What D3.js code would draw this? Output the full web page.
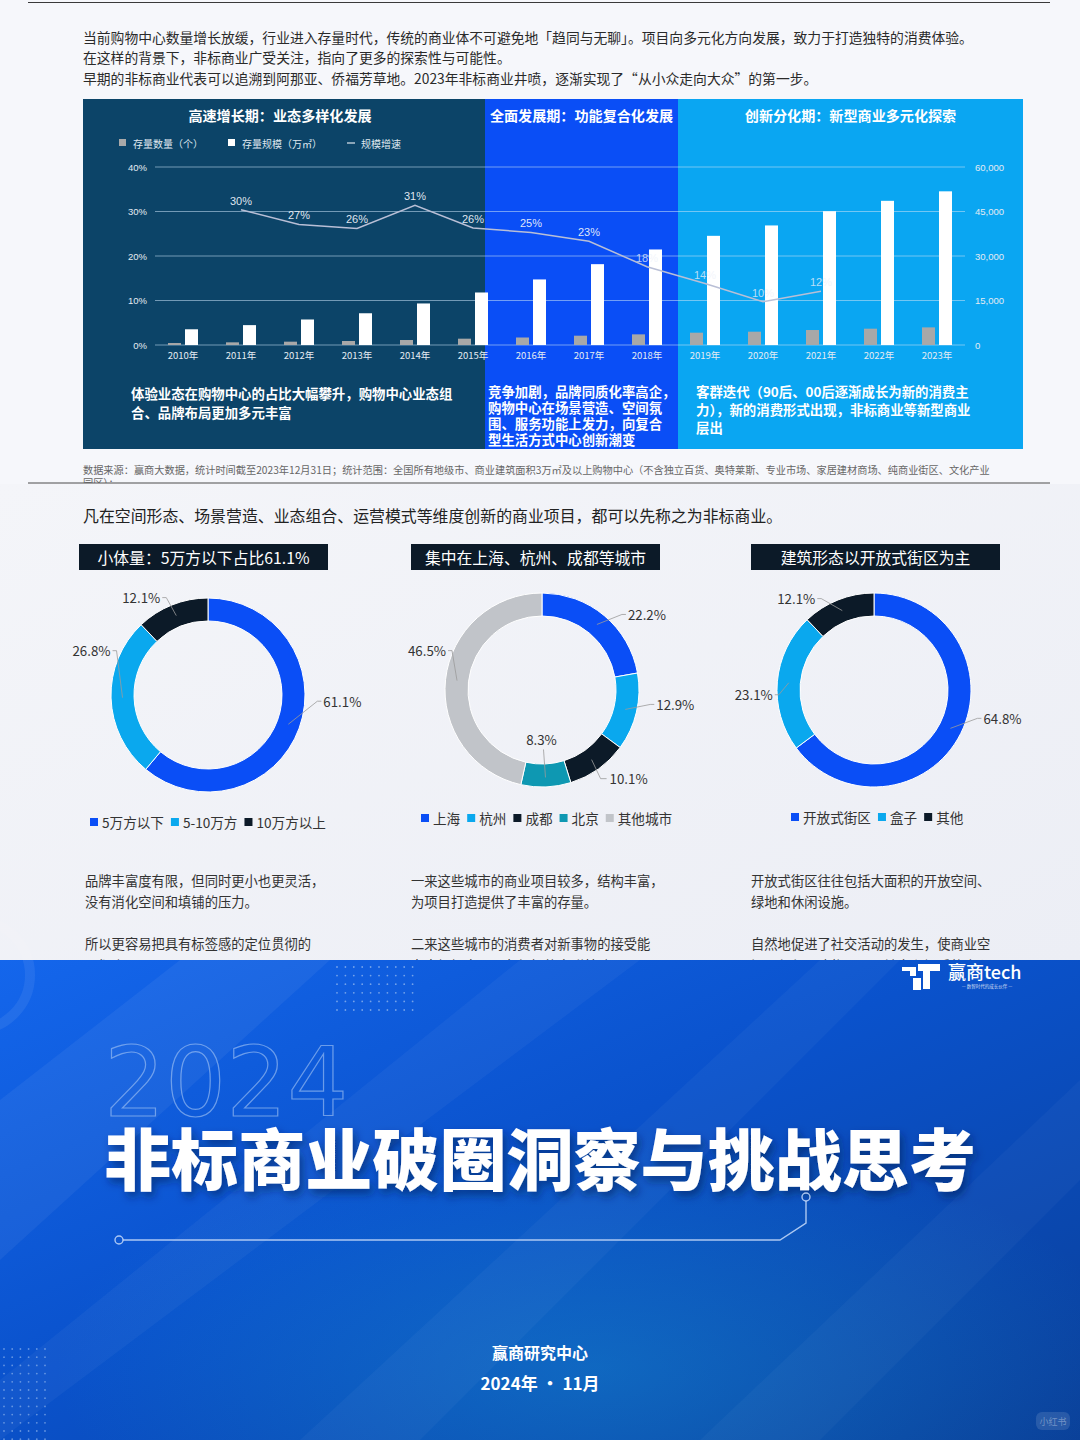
<!DOCTYPE html>
<html><head><meta charset="utf-8">
<script src="https://cdn.jsdelivr.net/npm/d3@7"></script>
<style>body{margin:0;background:#fff}svg{display:block}</style>
</head><body><svg id="c" width="1080" height="1440"></svg>
<script>
// ---------------- DATA ----------------
const years = ['2010年','2011年','2012年','2013年','2014年','2015年','2016年','2017年','2018年','2019年','2020年','2021年','2022年','2023年'];
const stockCount = [670, 900, 1120, 1350, 1680, 2130, 2530, 3140, 3590, 4150, 4490, 5050, 5500, 5940];
const stockArea = [5300, 6700, 8600, 10700, 14000, 17700, 22100, 27250, 32200, 36800, 40300, 45100, 48600, 51800];
const areaGrowth = [null, 30.4, 27.1, 26.2, 31.4, 26.3, 25.3, 23.3, 17.6, 13.8, 9.7, 12.1, null, null];
const leftTicks = [0, 10, 20, 30, 40];
const rightTicks = [0, 15000, 30000, 45000, 60000];
const barLegend = ['存量数量（个）', '存量规模（万㎡）', '规模增速'];
const phaseTitles = ['高速增长期：业态多样化发展', '全面发展期：功能复合化发展', '创新分化期：新型商业多元化探索'];
const phaseNotes = [
  ['体验业态在购物中心的占比大幅攀升，购物中心业态组', '合、品牌布局更加多元丰富'],
  ['竞争加剧，品牌同质化率高企，', '购物中心在场景营造、空间氛', '围、服务功能上发力，向复合', '型生活方式中心创新潮变'],
  ['客群迭代（90后、00后逐渐成长为新的消费主', '力），新的消费形式出现，非标商业等新型商业', '层出']
];
const introLines = [
  '当前购物中心数量增长放缓，行业进入存量时代，传统的商业体不可避免地「趋同与无聊」。项目向多元化方向发展，致力于打造独特的消费体验。',
  '在这样的背景下，非标商业广受关注，指向了更多的探索性与可能性。',
  '早期的非标商业代表可以追溯到阿那亚、侨福芳草地。2023年非标商业井喷，逐渐实现了“从小众走向大众”的第一步。'
];
const sourceLines = ['数据来源：赢商大数据，统计时间截至2023年12月31日；统计范围：全国所有地级市、商业建筑面积3万㎡及以上购物中心（不含独立百货、奥特莱斯、专业市场、家居建材商场、纯商业街区、文化产业', '园区）；'];

const sectionLead = '凡在空间形态、场景营造、业态组合、运营模式等维度创新的商业项目，都可以先称之为非标商业。';
const donutTitles = ['小体量：5万方以下占比61.1%', '集中在上海、杭州、成都等城市', '建筑形态以开放式街区为主'];
const sizeCats = ['5万方以下', '5-10万方', '10万方以上'];
const sizeVals = [61.1, 26.8, 12.1];
const cityCats = ['上海', '杭州', '成都', '北京', '其他城市'];
const cityVals = [22.2, 12.9, 10.1, 8.3, 46.5];
const formCats = ['开放式街区', '盒子', '其他'];
const formVals = [64.8, 23.1, 12.1];
const donutNotes = [
  ['品牌丰富度有限，但同时更小也更灵活，', '没有消化空间和填铺的压力。', '所以更容易把具有标签感的定位贯彻的', '更彻底。'],
  ['一来这些城市的商业项目较多，结构丰富，', '为项目打造提供了丰富的存量。', '二来这些城市的消费者对新事物的接受能', '力大幅提高，具备很好的客群基础。'],
  ['开放式街区往往包括大面积的开放空间、', '绿地和休闲设施。', '自然地促进了社交活动的发生，使商业空', '间不仅仅可购物，更是社交和娱乐的中心。']
];
const coverYear = '2024';
const coverTitle = '非标商业破圈洞察与挑战思考';
const coverOrg = '赢商研究中心';
const coverDate = '2024年 · 11月';

// ---------------- SETUP ----------------
const CN = '"Noto Sans CJK SC","Noto Sans",sans-serif';
const EN = '"Liberation Sans",Arial,sans-serif';
const svg = d3.select('#c');
const defs = svg.append('defs');
defs.append('clipPath').attr('id','clipTop').append('rect').attr('x',0).attr('y',0).attr('width',1080).attr('height',483);
defs.append('clipPath').attr('id','clipMid').append('rect').attr('x',0).attr('y',484).attr('width',1080).attr('height',476);

svg.append('rect').attr('x',0).attr('y',0).attr('width',1080).attr('height',484).attr('fill','#f6f7fb');
const g2 = defs.append('linearGradient').attr('id','bg2').attr('x1',0).attr('y1',0).attr('x2',1).attr('y2',1);
g2.append('stop').attr('offset',0).attr('stop-color','#f4f5f9');
g2.append('stop').attr('offset',1).attr('stop-color','#eceef5');
svg.append('rect').attr('x',0).attr('y',484).attr('width',1080).attr('height',476).attr('fill','url(#bg2)');
svg.append('line').attr('x1',28).attr('x2',1050).attr('y1',2.5).attr('y2',2.5).attr('stroke','#3a3a3a').attr('stroke-width',1);

svg.append('g').selectAll('text').data(introLines).join('text')
  .attr('x',83).attr('y',(d,i)=>[37,57,78][i]).attr('dominant-baseline','central')
  .attr('font-family',CN).attr('font-size',13.8).attr('fill','#2a2a2a').text(d=>d);

// ---------------- BAR/LINE CHART ----------------
const x = d3.scaleBand().domain(years).range([154, 966]).padding(0);
const cx = d => x(d) + x.bandwidth()/2;
const yL = d3.scaleLinear().domain([0, 40]).range([345, 167]);
const yR = d3.scaleLinear().domain([0, 60000]).range([345, 167]);
const panelTop = 99, panelBot = 449, panelL = 83, panelR = 1023;
const b1 = x(years[6]) - 17, b2 = x(years[9]) + 2;
const phases = [[panelL, b1, '#0c4468'], [b1, b2, '#0a4ef6'], [b2, panelR, '#0aa6f2']];
svg.append('g').selectAll('rect').data(phases).join('rect')
  .attr('x',d=>d[0]).attr('y',panelTop).attr('width',d=>d[1]-d[0]).attr('height',panelBot-panelTop).attr('fill',d=>d[2]);

svg.append('g').selectAll('text').data(phaseTitles).join('text')
  .attr('x',(d,i)=>(phases[i][0]+phases[i][1])/2 + [-4,0,0][i]).attr('y',115).attr('text-anchor','middle').attr('dominant-baseline','central')
  .attr('font-family',CN).attr('font-weight',700).attr('font-size',14.1).attr('fill','#fff').text(d=>d);

const lg = svg.append('g').attr('font-family',CN).attr('font-size',10).attr('fill','#dfe7ef');
lg.append('rect').attr('x',119).attr('y',139).attr('width',7).attr('height',7).attr('fill','#a9a9a9');
lg.append('text').attr('x',133).attr('y',143).attr('dominant-baseline','central').text(barLegend[0]);
lg.append('rect').attr('x',228).attr('y',139).attr('width',7).attr('height',7).attr('fill','#fff');
lg.append('text').attr('x',242).attr('y',143).attr('dominant-baseline','central').text(barLegend[1]);
lg.append('line').attr('x1',347).attr('x2',355).attr('y1',143).attr('y2',143).attr('stroke','#dfe7ef').attr('stroke-width',1.2);
lg.append('text').attr('x',361).attr('y',143).attr('dominant-baseline','central').text(barLegend[2]);

svg.append('g').selectAll('line').data(leftTicks).join('line')
  .attr('x1',155).attr('x2',965).attr('y1',d=>yL(d)).attr('y2',d=>yL(d))
  .attr('stroke','rgba(200,225,245,0.55)').attr('stroke-width',1);

const axL = svg.append('g').attr('transform','translate(147,0)')
  .call(d3.axisLeft(yL).tickValues(leftTicks).tickFormat(d=>d+'%').tickSize(0).tickPadding(0));
const axR = svg.append('g').attr('transform','translate(975,0)')
  .call(d3.axisRight(yR).tickValues(rightTicks).tickFormat(d3.format(',')).tickSize(0).tickPadding(0));
const axB = svg.append('g').attr('transform','translate(0,350)')
  .call(d3.axisBottom(x).tickSize(0).tickPadding(0));
[axL, axR, axB].forEach(a => {
  a.select('.domain').remove();
  a.selectAll('text').attr('font-family',EN).attr('font-size',9.5).attr('fill','#e4ebf2');
});
axB.selectAll('text').attr('font-family',CN).attr('dy','0.9em');

svg.append('g').selectAll('rect').data(years).join('rect')
  .attr('x',d=>cx(d)-15).attr('width',13)
  .attr('y',(d,i)=>yR(stockCount[i])).attr('height',(d,i)=>yR(0)-yR(stockCount[i]))
  .attr('fill','#a8a8a8');
svg.append('g').selectAll('rect').data(years).join('rect')
  .attr('x',d=>cx(d)+2).attr('width',13)
  .attr('y',(d,i)=>yR(stockArea[i])).attr('height',(d,i)=>yR(0)-yR(stockArea[i]))
  .attr('fill','#ffffff');

const lineData = years.map((d,i)=>({y:d, v:areaGrowth[i]}));
svg.append('path').datum(lineData)
  .attr('d', d3.line().defined(d=>d.v!=null).x(d=>cx(d.y)).y(d=>yL(d.v)))
  .attr('fill','none').attr('stroke','#b9bfd6').attr('stroke-width',1.5);
svg.append('g').selectAll('text').data(lineData.filter(d=>d.v!=null)).join('text')
  .attr('x',d=>cx(d.y)).attr('y',d=>yL(d.v)-9).attr('text-anchor','middle').attr('dominant-baseline','central')
  .attr('font-family',EN).attr('font-size',11).attr('fill','#eef2fa').attr('fill-opacity',(d,i)=>i>=7?0.75:0.95)
  .text(d=>Math.round(d.v)+'%');

const noteX = [131, 488, 696], noteY = [[393,412],[391,407,423,439],[391,409,427]];
phaseNotes.forEach((lines, k) => {
  svg.append('g').selectAll('text').data(lines).join('text')
    .attr('x',noteX[k]).attr('y',(d,i)=>noteY[k][i]).attr('dominant-baseline','central')
    .attr('font-family',CN).attr('font-weight',700).attr('font-size',13.4).attr('fill','#fff').text(d=>d);
});

svg.append('g').attr('clip-path','url(#clipTop)').selectAll('text').data(sourceLines).join('text')
  .attr('x',83).attr('y',(d,i)=>469+i*13).attr('dominant-baseline','central')
  .attr('font-family',CN).attr('font-size',10.2).attr('fill','#666').text(d=>d);
svg.append('line').attr('x1',28).attr('x2',1050).attr('y1',483).attr('y2',483).attr('stroke','#4a4a4a').attr('stroke-width',1);

// ---------------- DONUTS ----------------
svg.append('text').attr('x',83).attr('y',515).attr('dominant-baseline','central')
  .attr('font-family',CN).attr('font-size',15.9).attr('fill','#222').text(sectionLead);

const cBlue = '#0a4ef6', cLight = '#0aa8ee', cDark = '#0c1a28', cTeal = '#0e98b2', cGray = '#c1c4c9';
const donuts = [
  {cx:208, cy:695, box:79, cats:sizeCats, vals:sizeVals, colors:[cBlue,cLight,cDark],
   lbl:[[29,-23,'start',1],[-6,-47,'end',1],[-10,-18,'end',1]], legX:90, legY:822},
  {cx:542, cy:690, box:411, cats:cityCats, vals:cityVals, colors:[cBlue,cLight,cDark,cTeal,cGray],
   lbl:[[25,-10,'start',1],[25,-5,'start',1],[9,19,'start',2],[-4,-36,'middle',0],[-5,-30,'end',1]], legX:421, legY:818},
  {cx:874, cy:690, box:751, cats:formCats, vals:formVals, colors:[cBlue,cLight,cDark],
   lbl:[[27,-10,'start',1],[-10,12,'end',1],[-21,-12,'end',1]], legX:791, legY:817}
];
const rO = 97, rI = 74, rM = 85.5;
donuts.forEach((dn, k) => {
  svg.append('rect').attr('x',dn.box).attr('y',544).attr('width',249).attr('height',26).attr('fill','#0c1a28');
  svg.append('text').attr('x',dn.box+124.5).attr('y',557).attr('text-anchor','middle').attr('dominant-baseline','central')
    .attr('font-family',CN).attr('font-size',15.8).attr('fill','#fff').text(donutTitles[k]);

  const data = dn.cats.map((c,i)=>({c, v:dn.vals[i], col:dn.colors[i]}));
  const arcs = d3.pie().sort(null).value(d=>d.v)(data);
  const g = svg.append('g').attr('transform',`translate(${dn.cx},${dn.cy})`);
  g.selectAll('path').data(arcs).join('path')
    .attr('d', d3.arc().innerRadius(rI).outerRadius(rO))
    .attr('fill', d=>d.data.col).attr('stroke','#fff').attr('stroke-width',1);
  arcs.forEach((a, i) => {
    const mid = (a.startAngle + a.endAngle)/2;
    const px = Math.sin(mid)*rM, py = -Math.cos(mid)*rM;
    const [dx, dy, anchor, tail] = dn.lbl[i];
    const ex = px+dx, ey = py+dy;
    let pts = [[px,py],[ex,ey]];
    let tx = ex, ty = ey;
    if (tail === 1) { const s = anchor==='start'?1:-1; pts.push([ex+4*s, ey]); tx = ex+6*s; }
    if (tail === 2) { pts.push([ex+6, ey]); tx = ex+9; }
    if (anchor === 'middle') { pts = [[px,py+2],[ex+2,ey+10]]; }
    g.append('path').attr('d', d3.line()(pts)).attr('fill','none').attr('stroke','#9a9a9a').attr('stroke-width',0.8);
    g.append('text').attr('x',tx).attr('y',ty).attr('text-anchor',tail===2?'start':anchor).attr('dominant-baseline','central')
      .attr('font-family',CN).attr('font-size',13.3).attr('fill','#333').text(a.data.v.toFixed(1)+'%');
  });
  const lgG = svg.append('g');
  let lx = dn.legX;
  data.forEach(d => {
    lgG.append('rect').attr('x',lx).attr('y',dn.legY-4).attr('width',8).attr('height',8).attr('fill',d.col);
    const t = lgG.append('text').attr('x',lx+12).attr('y',dn.legY).attr('dominant-baseline','central')
      .attr('font-family',CN).attr('font-size',13.6).attr('fill','#333').text(d.c);
    lx += 12 + t.node().getComputedTextLength() + 7;
  });
  svg.append('g').attr('clip-path','url(#clipMid)').selectAll('text').data(donutNotes[k]).join('text')
    .attr('x',[85,411,751][k]).attr('y',(d,i)=>[880,901,943,965][i]).attr('dominant-baseline','central')
    .attr('font-family',CN).attr('font-size',13.3).attr('fill','#333').text(d=>d);
});

// ---------------- COVER BANNER ----------------
const bg = defs.append('linearGradient').attr('id','ban').attr('x1',0).attr('y1',0).attr('x2',1).attr('y2',1);
bg.append('stop').attr('offset',0).attr('stop-color','#1466ec');
bg.append('stop').attr('offset',0.45).attr('stop-color','#0a52cc');
bg.append('stop').attr('offset',1).attr('stop-color','#0a3f98');
svg.append('rect').attr('x',0).attr('y',960).attr('width',1080).attr('height',480).attr('fill','url(#ban)');
const glow = defs.append('radialGradient').attr('id','glow').attr('cx',0.55).attr('cy',0.85).attr('r',0.5);
glow.append('stop').attr('offset',0).attr('stop-color','#1aa0d8').attr('stop-opacity',0.35);
glow.append('stop').attr('offset',1).attr('stop-color','#1aa0d8').attr('stop-opacity',0);
svg.append('rect').attr('x',0).attr('y',960).attr('width',1080).attr('height',480).attr('fill','url(#glow)');
const stripes = [
  [[0,1100],[180,960],[330,960],[0,1260]],
  [[0,1440],[0,1380],[520,960],[640,960]],
  [[300,1440],[820,960],[900,960],[420,1440]],
  [[700,1440],[1080,1080],[1080,1180],[820,1440]]
];
svg.append('g').selectAll('path').data(stripes).join('path')
  .attr('d', d=>d3.line()(d)+'Z').attr('fill','#ffffff').attr('fill-opacity',(d,i)=>[0.05,0.04,0.035,0.03][i]);
svg.append('circle').attr('cx',-25).attr('cy',975).attr('r',55).attr('fill','none').attr('stroke','#ffffff').attr('stroke-opacity',0.07).attr('stroke-width',10);

const dotsTop = d3.cross(d3.range(10), d3.range(6));
svg.append('g').selectAll('circle').data(dotsTop).join('circle')
  .attr('cx',d=>337+d[0]*8.4).attr('cy',d=>967+d[1]*8.6).attr('r',0.9).attr('fill','#9fc0f0').attr('fill-opacity',0.7);
const dotsBot = d3.cross(d3.range(6), d3.range(12));
svg.append('g').selectAll('circle').data(dotsBot).join('circle')
  .attr('cx',d=>4+d[0]*8.2).attr('cy',d=>1349+d[1]*8.2).attr('r',0.9).attr('fill','#9fc0f0').attr('fill-opacity',0.6);

const logo = svg.append('g').attr('fill','#fff');
logo.append('path').attr('d','M902,967 L916,967 L916,976 L910,976 L910,971 L902,971 Z');
logo.append('path').attr('d','M913,978 L921,978 L921,990 L913,990 Z');
logo.append('path').attr('d','M918,964 L940,964 L940,971 L930,971 L930,989 L923,989 L923,971 L918,971 Z');
logo.append('text').attr('x',948).attr('y',971).attr('dominant-baseline','central').attr('font-family',CN)
  .attr('font-size',18).attr('font-weight',500).text('赢商tech');
logo.append('text').attr('x',987).attr('y',986).attr('text-anchor','middle').attr('dominant-baseline','central').attr('font-family',CN)
  .attr('font-size',4.5).attr('fill-opacity',0.8).text('— 数智时代的成长伙伴 —');

svg.append('text').attr('x',104).attr('y',1116).attr('font-family','"DejaVu Sans",sans-serif').attr('font-size',96)
  .attr('fill','none').attr('stroke','#a9c8f5').attr('stroke-opacity',0.6).attr('stroke-width',1.2).text(coverYear);

const sh = defs.append('filter').attr('id','sh').attr('x',-0.1).attr('y',-0.3).attr('width',1.2).attr('height',1.6);
sh.append('feDropShadow').attr('dx',3).attr('dy',5).attr('stdDeviation',4).attr('flood-color','#001a50').attr('flood-opacity',0.55);
svg.append('text').attr('x',540).attr('y',1155).attr('text-anchor','middle').attr('dominant-baseline','central')
  .attr('font-family',CN).attr('font-weight',900).attr('font-size',67).attr('fill','#fff')
  .attr('textLength',872).attr('lengthAdjust','spacingAndGlyphs').attr('filter','url(#sh)').text(coverTitle);

const deco = svg.append('g').attr('stroke','#c8dcfa').attr('stroke-opacity',0.85).attr('fill','none').attr('stroke-width',1.4);
deco.append('path').attr('d', d3.line()([[123,1240],[780,1240],[806,1223],[806,1201]]));
deco.append('circle').attr('cx',119).attr('cy',1240).attr('r',4);
deco.append('circle').attr('cx',806).attr('cy',1197).attr('r',4);

svg.append('text').attr('x',540).attr('y',1352).attr('text-anchor','middle').attr('dominant-baseline','central')
  .attr('font-family',CN).attr('font-weight',700).attr('font-size',16).attr('fill','#fff').text(coverOrg);
svg.append('text').attr('x',540).attr('y',1382).attr('text-anchor','middle').attr('dominant-baseline','central')
  .attr('font-family',CN).attr('font-weight',700).attr('font-size',17).attr('fill','#fff').text(coverDate);

svg.append('rect').attr('x',1036).attr('y',1412).attr('width',34).attr('height',18).attr('rx',6).attr('fill','#ffffff').attr('fill-opacity',0.12);
svg.append('text').attr('x',1053).attr('y',1421).attr('text-anchor','middle').attr('dominant-baseline','central')
  .attr('font-family',CN).attr('font-size',9).attr('fill','#ffffff').attr('fill-opacity',0.35).text('小红书');
</script></body></html>
